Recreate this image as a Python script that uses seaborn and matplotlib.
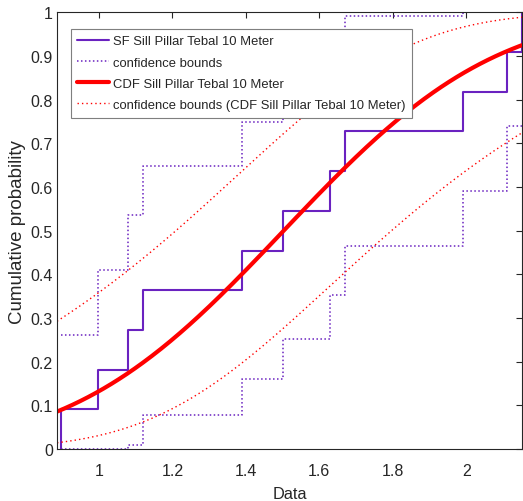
import math
import numpy as np
import pandas as pd
import matplotlib
matplotlib.use("Agg")
import matplotlib.pyplot as plt
import seaborn as sns

# ---- data ----
data = [0.8975, 0.997, 1.079, 1.120, 1.389, 1.500, 1.629, 1.670, 1.992, 2.1115, 2.151]
# Greenwood confidence bounds of the empirical CDF (one value per step, last level repeated)
sf_lower = [0.0, 0.0, 0.0095, 0.079, 0.160, 0.251, 0.352, 0.464, 0.590, 0.739]
sf_upper = [0.261, 0.410, 0.536, 0.648, 0.749, 0.840, 0.921, 0.991, 1.0, 1.0]
x_limits = [0.886, 2.152]
x_ticks = [1.0, 1.2, 1.4, 1.6, 1.8, 2.0]
x_ticklabels = ["1", "1.2", "1.4", "1.6", "1.8", "2"]
y_ticks = [0, 0.1, 0.2, 0.3, 0.4, 0.5, 0.6, 0.7, 0.8, 0.9, 1.0]
y_ticklabels = ["0", "0.1", "0.2", "0.3", "0.4", "0.5", "0.6", "0.7", "0.8", "0.9", "1"]
labels = ["SF Sill Pillar Tebal 10 Meter", "confidence bounds",
          "CDF Sill Pillar Tebal 10 Meter",
          "confidence bounds (CDF Sill Pillar Tebal 10 Meter)"]

purple = "#6a22c0"
red = "#ff0000"

sns.set_style("white")
plt.rcParams["font.family"] = ["Liberation Sans", "DejaVu Sans"]

fig = plt.figure(figsize=(5.23, 5.02), dpi=100)
ax = fig.add_axes([57 / 523, 1 - 450 / 502, 465 / 523, (450 - 13.3) / 502])

# empirical CDF
sns.ecdfplot(x=data, ax=ax, color=purple, lw=1.5, label=labels[0])

# confidence bounds of the ECDF (stairs)
xs = np.sort(np.array(data))
lo = list(sf_lower) + [sf_lower[-1]]
hi = list(sf_upper) + [sf_upper[-1]]
df_b = pd.DataFrame({"x": xs, "lo": lo, "hi": hi})
dot_p = (0, (1, 1.6))
sns.lineplot(data=df_b, x="x", y="lo", ax=ax, color=purple, lw=1.1, ls=dot_p,
             drawstyle="steps-post", estimator=None, sort=False, label=labels[1])
sns.lineplot(data=df_b, x="x", y="hi", ax=ax, color=purple, lw=1.1, ls=dot_p,
             drawstyle="steps-post", estimator=None, sort=False, label="_nolegend_")

# fitted normal CDF with delta-method bounds
arr = np.array(data)
n = len(arr)
mu = arr.mean()
sigma = arr.std(ddof=1)
var_mu = sigma ** 2 / n
var_sig = sigma ** 2 / (2 * n)
xg = np.linspace(x_limits[0], x_limits[1], 300)
z = (xg - mu) / sigma
se_z = np.sqrt((var_mu + z ** 2 * var_sig) / sigma ** 2)
ncdf = np.vectorize(lambda t: 0.5 * (1 + math.erf(t / math.sqrt(2))))
df_c = pd.DataFrame({"x": xg, "p": ncdf(z), "plo": ncdf(z - 1.96 * se_z), "phi": ncdf(z + 1.96 * se_z)})
dot_r = (0, (1, 2.2))
sns.lineplot(data=df_c, x="x", y="p", ax=ax, color=red, lw=3.0, label=labels[2])
sns.lineplot(data=df_c, x="x", y="plo", ax=ax, color=red, lw=1.0, ls=dot_r, label=labels[3])
sns.lineplot(data=df_c, x="x", y="phi", ax=ax, color=red, lw=1.0, ls=dot_r, label="_nolegend_")

ax.set_xlim(*x_limits)
ax.set_ylim(0, 1)
ax.set_xticks(x_ticks)
ax.set_xticklabels(x_ticklabels)
ax.set_yticks(y_ticks)
ax.set_yticklabels(y_ticklabels)
ax.tick_params(direction="in", length=4, width=0.8, top=True, right=True,
               labelsize=11.5, colors="#262626")
ax.tick_params(axis="x", pad=10)
ax.tick_params(axis="y", pad=3)
for s in ax.spines.values():
    s.set_visible(True)
    s.set_color("#262626")
    s.set_linewidth(0.8)
ax.set_xlabel("Data", fontsize=11.8, color="#262626", labelpad=6)
ax.set_ylabel("Cumulative probability", fontsize=13.5, color="#262626", labelpad=3)

leg = ax.legend(loc="upper left", bbox_to_anchor=(0.030, 0.962), fontsize=9.35,
                frameon=True, fancybox=False, framealpha=1, edgecolor="#7f7f7f",
                borderaxespad=0, handlelength=2.4, handletextpad=0.33,
                borderpad=0.5, labelspacing=0.7)
leg.get_frame().set_linewidth(0.8)

fig.savefig("out.png", dpi=100)
